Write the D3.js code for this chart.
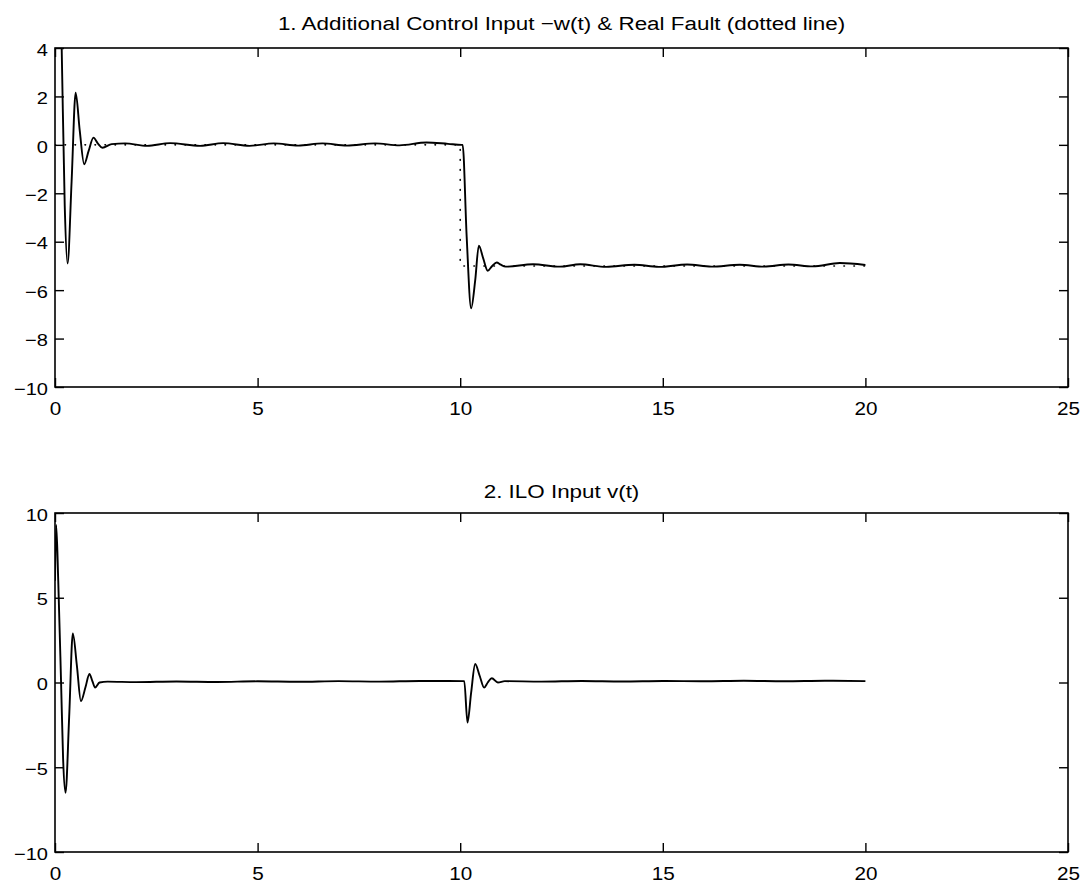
<!DOCTYPE html>
<html>
<head>
<meta charset="utf-8">
<script src="https://cdn.jsdelivr.net/npm/d3@7"></script>
<style>
  body { margin: 0; background: #fff; }
  svg { display: block; }
  text { font-family: "Liberation Sans", Arial, Helvetica, sans-serif; fill: #000; }
</style>
</head>
<body>
<svg id="chart" width="1090" height="885"></svg>
<script>
// ---------- Data ----------
const titles = [
  "1. Additional Control Input \u2212w(t) & Real Fault (dotted line)",
  "2. ILO Input v(t)"
];
const xTicks = [0, 5, 10, 15, 20, 25];
const yTicks1 = [4, 2, 0, -2, -4, -6, -8, -10];
const yTicks2 = [10, 5, 0, -5, -10];

// Panel 1: additional control input -w(t)
const wTime = [0, 0.1, 0.165, 0.24, 0.31, 0.41, 0.51, 0.61, 0.72, 0.83, 0.95, 1.06, 1.17, 1.4, 1.73, 2.27, 2.84, 3.58, 4.15, 4.8, 5.4, 6.0, 6.6, 7.2, 7.9, 8.5, 9.17, 9.7, 10.04,
  10.06, 10.16, 10.27, 10.37, 10.46, 10.57, 10.68, 10.79, 10.9, 11.0, 11.12, 11.8, 12.46, 12.96, 13.6, 14.3, 14.9, 15.6, 16.2, 16.9, 17.5, 18.1, 18.7, 19.37, 20];
const wValue = [12, 9, 4, -2.5, -4.9, -1.5, 2.15, 0.6, -0.8, -0.25, 0.3, 0.05, -0.12, 0.03, 0.06, -0.04, 0.07, -0.04, 0.07, -0.04, 0.06, -0.03, 0.06, -0.03, 0.06, -0.02, 0.1, 0.04, 0.0,
  0.0, -3.8, -6.75, -5.6, -4.16, -4.7, -5.2, -5.0, -4.86, -4.95, -5.03, -4.93, -5.03, -4.93, -5.04, -4.95, -5.04, -4.94, -5.03, -4.95, -5.03, -4.94, -5.02, -4.88, -4.96];

// Panel 1: real fault (dotted)
const faultTime = [0, 10, 10, 20];
const faultValue = [0, 0, -5, -5];

// Panel 2: ILO input v(t)
const vTime = [0, 0.03, 0.08, 0.15, 0.2, 0.26, 0.35, 0.44, 0.54, 0.64, 0.75, 0.85, 0.92, 0.99, 1.1, 1.3, 2.0, 3.0, 4.0, 5.0, 6.0, 7.0, 8.0, 9.0, 10.1,
  10.18, 10.27, 10.37, 10.48, 10.59, 10.68, 10.78, 10.93, 11.1, 12.0, 13.0, 14.0, 15.0, 16.0, 17.0, 18.0, 19.0, 20];
const vValue = [6, 9.3, 6, 0, -4.5, -6.5, -2, 2.9, 1, -1.1, -0.3, 0.5, 0.1, -0.3, 0.0, 0.05, 0.02, 0.06, 0.03, 0.07, 0.04, 0.08, 0.05, 0.09, 0.08,
  -2.37, -0.6, 1.09, 0.4, -0.3, 0.0, 0.25, 0.0, 0.08, 0.05, 0.09, 0.06, 0.09, 0.07, 0.1, 0.07, 0.1, 0.08];

// ---------- Layout ----------
const svg = d3.select("#chart");
const left = 55, right = 1068;
const panels = [
  { top: 48, bottom: 387, domain: [-10, 4], yTicks: yTicks1, title: titles[0], titleY: 30,
    series: [
      { t: faultTime, v: faultValue, dotted: true, curve: d3.curveLinear },
      { t: wTime, v: wValue, dotted: false, curve: d3.curveMonotoneX }
    ] },
  { top: 513, bottom: 852, domain: [-10, 10], yTicks: yTicks2, title: titles[1], titleY: 498,
    series: [
      { t: vTime, v: vValue, dotted: false, curve: d3.curveMonotoneX }
    ] }
];

const x = d3.scaleLinear().domain([0, 25]).range([left, right]);
const fmt = d => (d < 0 ? "\u2212" + Math.abs(d) : String(d));
const stretch = (sel, s) => sel.attr("transform", `scale(${s},1)`);

panels.forEach((p, i) => {
  const y = d3.scaleLinear().domain(p.domain).range([p.bottom, p.top]);
  const g = svg.append("g");
  const clipId = "clip" + i;
  svg.append("clipPath").attr("id", clipId)
    .append("rect").attr("x", left).attr("y", p.top)
    .attr("width", right - left).attr("height", p.bottom - p.top);

  // series
  p.series.forEach(s => {
    const pts = s.t.map((t, k) => [t, s.v[k]]);
    const line = d3.line().x(d => x(d[0])).y(d => y(d[1])).curve(s.curve);
    g.append("path")
      .attr("clip-path", `url(#${clipId})`)
      .attr("d", line(pts))
      .attr("fill", "none")
      .attr("stroke", "#000")
      .attr("stroke-width", s.dotted ? 1.6 : 1.9)
      .attr("stroke-linejoin", "round")
      .attr("stroke-linecap", s.dotted ? "round" : "butt")
      .attr("stroke-dasharray", s.dotted ? "0.5,9.5" : null);
  });

  // axes
  const axB = g.append("g").attr("transform", `translate(0,${p.bottom})`)
    .call(d3.axisBottom(x).tickValues(xTicks).tickSizeInner(-9).tickSizeOuter(0).tickFormat(fmt));
  const axT = g.append("g").attr("transform", `translate(0,${p.top})`)
    .call(d3.axisTop(x).tickValues(xTicks).tickSizeInner(-9).tickSizeOuter(0).tickFormat(""));
  const axL = g.append("g").attr("transform", `translate(${left},0)`)
    .call(d3.axisLeft(y).tickValues(p.yTicks).tickSizeInner(-9).tickSizeOuter(0).tickFormat(fmt));
  const axR = g.append("g").attr("transform", `translate(${right},0)`)
    .call(d3.axisRight(y).tickValues(p.yTicks).tickSizeInner(-9).tickSizeOuter(0).tickFormat(""));
  [axB, axT, axL, axR].forEach(a => {
    a.select(".domain").remove();
    a.selectAll(".tick line").attr("stroke", "#000").attr("stroke-width", 1.4);
    a.selectAll("text").attr("fill", "#000");
  });
  axB.selectAll("text").style("font-size", "18px").attr("y", 28).attr("dy", 0)
    .call(stretch, 1.15);
  axL.selectAll("text").style("font-size", "17px").attr("x", -6).attr("dy", "0.42em")
    .call(stretch, 1.18);

  // box
  g.append("rect").attr("x", left).attr("y", p.top)
    .attr("width", right - left).attr("height", p.bottom - p.top)
    .attr("fill", "none").attr("stroke", "#000").attr("stroke-width", 1.6);

  // title
  const cx = (left + right) / 2;
  g.append("g").attr("transform", `translate(${cx},${p.titleY}) scale(1.18,1)`)
    .append("text").attr("x", 0).attr("y", 0)
    .attr("text-anchor", "middle").style("font-size", "19px").text(p.title);
});
</script>
</body>
</html>
